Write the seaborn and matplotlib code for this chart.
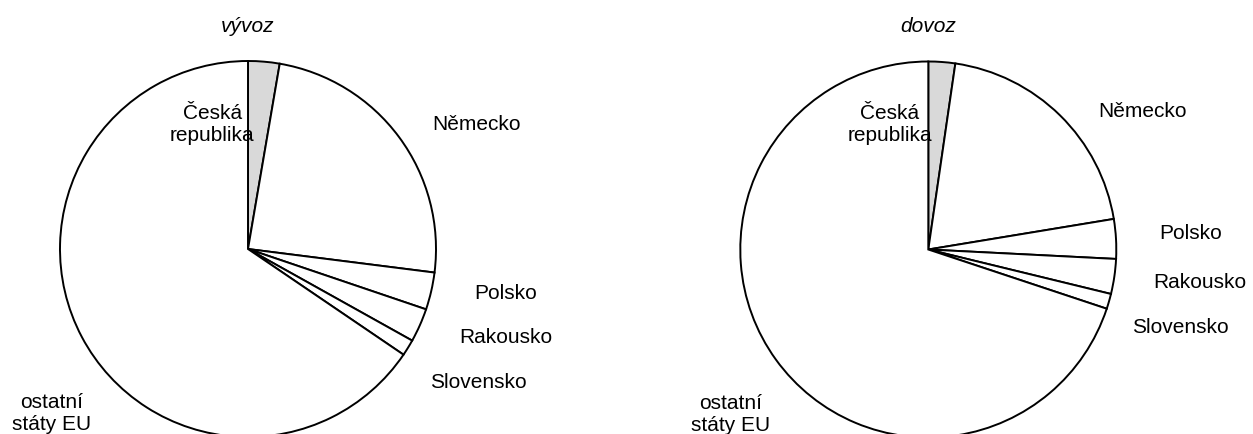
import matplotlib
matplotlib.use("Agg")
import matplotlib.pyplot as plt
import seaborn as sns

# Podíly (%), pořadí po směru hodinových ručiček od 12 h
zeme = ["Česká\nrepublika", "Německo", "Polsko", "Rakousko", "Slovensko", "ostatní\nstáty EU"]
vyvoz = [2.7, 24.3, 3.2, 2.9, 1.4, 65.5]
dovoz = [2.3, 20.1, 3.4, 3.0, 1.3, 69.9]
nazvy = ["vývoz", "dovoz"]

# Umístění popisků (v souřadnicích koláče, poloměr = 1)
popisky_vyvoz = [(-0.19, 0.665), (1.213, 0.665), (1.372, -0.229),
                 (1.370, -0.468), (1.223, -0.707), (-1.043, -0.872)]
popisky_dovoz = [(-0.204, 0.668), (1.137, 0.737), (1.397, 0.088),
                 (1.443, -0.168), (1.339, -0.412), (-1.050, -0.870)]

sns.set_theme(style="white")
plt.rcParams["font.family"] = ["Liberation Sans", "DejaVu Sans"]
plt.rcParams["text.color"] = "black"

W, H = 1253, 435
R = 188
fig = plt.figure(figsize=(W / 100, H / 100), dpi=100)

barvy = ["#d9d9d9"] + ["white"] * 5
stredy = [(248, 250), (928.3, 250.5)]

for hodnoty, nazev, popisky, (cx, cy) in zip([vyvoz, dovoz], nazvy,
                                            [popisky_vyvoz, popisky_dovoz], stredy):
    ax = fig.add_axes([(cx - R) / W, (H - cy - R) / H, 2 * R / W, 2 * R / H])
    ax.pie(hodnoty, startangle=90, counterclock=False, colors=barvy,
           wedgeprops={"edgecolor": "black", "linewidth": 1.4})
    ax.set_xlim(-1, 1)
    ax.set_ylim(-1, 1)
    ax.set_aspect("equal")
    ax.axis("off")
    for text, (x, y) in zip(zeme, popisky):
        ax.text(x, y, text, ha="center", va="center", fontsize=15,
                linespacing=1.2, color="black", clip_on=False)
    ax.text(0, (cy - 26) / R, nazev, ha="center", va="center", fontsize=15,
            style="italic", color="black", clip_on=False)

plt.savefig("out.png", dpi=100)
